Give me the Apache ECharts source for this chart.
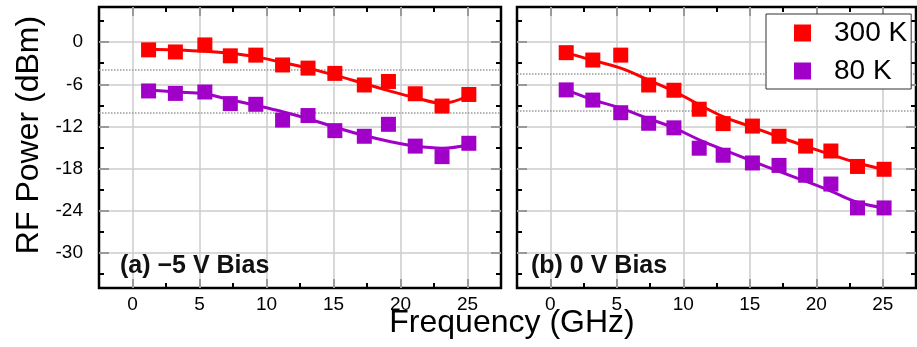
<!DOCTYPE html>
<html>
<head>
<meta charset="UTF-8">
<title>RF Power vs Frequency</title>
<script src="https://cdn.jsdelivr.net/npm/echarts@6/dist/echarts.min.js"></script>
<style>
    html, body { margin: 0; padding: 0; background: #fff; }
    #main { width: 917px; height: 347px; }
</style>
</head>
<body>
<div id="main"></div>
<script>
    // (a) -5 V bias
    var freqA = [1.2, 3.2, 5.4, 7.3, 9.2, 11.2, 13.1, 15.1, 17.3, 19.1, 21.1, 23.1, 25.1];
    var redA = [-1.1, -1.4, -0.4, -1.95, -1.85, -3.25, -3.7, -4.45, -6.1, -5.6, -7.35, -9.1, -7.45];
    var purpleA = [-6.95, -7.3, -7.1, -8.75, -8.85, -11.1, -10.45, -12.6, -13.4, -11.7, -14.8, -16.3, -14.4];
    var fitRedA = [-1.0, -1.1, -1.3, -1.6, -2.1, -2.9, -3.7, -4.7, -5.9, -6.9, -7.9, -8.7, -7.6];
    var fitPurpleA = [-6.8, -7.1, -7.4, -8.2, -9.0, -9.9, -10.9, -12.1, -13.3, -14.1, -14.8, -15.1, -14.6];
    var dottedA = [-4, -10];

    // (b) 0 V bias
    var freqB = [1.2, 3.2, 5.3, 7.4, 9.3, 11.2, 13.0, 15.2, 17.2, 19.2, 21.1, 23.1, 25.1];
    var redB = [-1.5, -2.55, -1.85, -6.1, -6.85, -9.55, -11.6, -11.95, -13.4, -14.8, -15.5, -17.7, -18.1];
    var purpleB = [-6.8, -8.25, -10.05, -11.55, -12.2, -15.1, -16.1, -17.2, -17.55, -18.95, -20.2, -23.6, -23.6];
    var fitRedB = [-1.5, -2.6, -3.7, -5.4, -7.0, -8.9, -10.6, -12.1, -13.5, -14.8, -16.0, -17.2, -18.1];
    var fitPurpleB = [-6.8, -8.2, -9.4, -10.9, -12.2, -13.9, -15.3, -16.95, -18.4, -19.8, -21.2, -22.8, -23.6];
    var dottedB = [-4.5, -9.7];

    // ticks
    var xMajor = [0, 5, 10, 15, 20, 25];
    var xMinor = [2.5, 7.5, 12.5, 17.5, 22.5];
    var yMajor = [-30, -24, -18, -12, -6, 0];
    var yMinor = [-33, -27, -21, -15, -9, -3, 3];

    var FONT = '"Liberation Sans", Arial, sans-serif';
    var RED = '#ff0000';
    var PURPLE = '#a000c8';

    function pairs(xs, ys) {
        return xs.map(function (x, i) { return [x, ys[i]]; });
    }

    function axis(dim, g, pos, vals, len, showLabel) {
        return {
            type: 'value',
            gridIndex: g,
            position: pos,
            min: dim === 'x' ? -2.5 : -35,
            max: dim === 'x' ? 27.5 : 5,
            axisLine: { show: false, onZero: false },
            axisTick: {
                show: true, inside: true, length: len, customValues: vals,
                lineStyle: { color: '#000', width: 2 }
            },
            axisLabel: {
                show: showLabel, customValues: vals, fontSize: 19, color: '#000',
                fontFamily: FONT, margin: dim === 'x' ? 7 : 16
            },
            splitLine: { show: false }
        };
    }

    var xAxes = [], yAxes = [];
    [0, 1].forEach(function (g) {
        xAxes.push(axis('x', g, 'bottom', xMajor, 9, true));
        xAxes.push(axis('x', g, 'bottom', xMinor, 5, false));
        xAxes.push(axis('x', g, 'top', xMajor, 9, false));
        xAxes.push(axis('x', g, 'top', xMinor, 5, false));
        yAxes.push(axis('y', g, 'left', yMajor, 10, g === 0));
        yAxes.push(axis('y', g, 'left', yMinor, 5, false));
        yAxes.push(axis('y', g, 'right', yMajor, 10, false));
        yAxes.push(axis('y', g, 'right', yMinor, 5, false));
    });

    function panelSeries(g, xs, red, purple, fitRed, fitPurple, dotted) {
        var ax = g * 4;
        var gridLines = xMajor.map(function (v) { return { xAxis: v }; })
            .concat(yMajor.map(function (v) { return { yAxis: v }; }));
        return [
            {
                name: 'grid', type: 'line', xAxisIndex: ax, yAxisIndex: ax,
                data: [], z: 1,
                markLine: {
                    silent: true, z: 1, symbol: ['none', 'none'], label: { show: false },
                    lineStyle: { color: '#cccccc', type: 'solid', width: 1.5 },
                    data: gridLines
                }
            },
            {
                name: 'fit300', type: 'line', xAxisIndex: ax, yAxisIndex: ax,
                data: pairs(xs, fitRed), smooth: 0.4, symbol: 'none', z: 2,
                lineStyle: { color: RED, width: 3 },
                markLine: {
                    silent: true, z: 1, symbol: ['none', 'none'], label: { show: false },
                    lineStyle: { color: '#999', type: 'dotted', width: 1.5 },
                    data: dotted.map(function (v) { return { yAxis: v }; })
                }
            },
            {
                name: 'fit80', type: 'line', xAxisIndex: ax, yAxisIndex: ax,
                data: pairs(xs, fitPurple), smooth: 0.4, symbol: 'none', z: 2,
                lineStyle: { color: PURPLE, width: 3 }
            },
            {
                name: '300 K', type: 'scatter', xAxisIndex: ax, yAxisIndex: ax,
                data: pairs(xs, red), symbol: 'rect', symbolSize: 15, z: 3,
                itemStyle: { color: RED, opacity: 1 }
            },
            {
                name: '80 K', type: 'scatter', xAxisIndex: ax, yAxisIndex: ax,
                data: pairs(xs, purple), symbol: 'rect', symbolSize: 15, z: 3,
                itemStyle: { color: PURPLE, opacity: 1 }
            }
        ];
    }

    var chart = echarts.init(document.getElementById('main'));
    var option = {
        animation: false,
        backgroundColor: '#fff',
        grid: [
            { left: 99, top: 7, width: 402, height: 281, show: true, borderColor: '#000', borderWidth: 2.5 },
            { left: 517, top: 7, width: 399, height: 281, show: true, borderColor: '#000', borderWidth: 2.5 }
        ],
        xAxis: xAxes,
        yAxis: yAxes,
        legend: {
            data: ['300 K', '80 K'],
            orient: 'vertical',
            left: 766, top: 14,
            icon: 'rect',
            itemWidth: 17, itemHeight: 17, itemGap: 10,
            padding: [5, 4, 4, 28],
            backgroundColor: '#fff',
            borderColor: '#333', borderWidth: 1,
            textStyle: { fontSize: 28, color: '#000', fontFamily: FONT, padding: [0, 0, 0, 18] }
        },
        graphic: [
            {
                type: 'text', x: 512, y: 323, z: 10,
                style: {
                    text: 'Frequency (GHz)', font: '32px ' + FONT, fill: '#000',
                    align: 'center', verticalAlign: 'middle'
                }
            },
            {
                type: 'text', x: 29, y: 135, rotation: Math.PI / 2, z: 10,
                style: {
                    text: 'RF Power (dBm)', font: '32px ' + FONT, fill: '#000',
                    align: 'center', verticalAlign: 'middle'
                }
            },
            {
                type: 'text', x: 120, y: 266, z: 10,
                style: { text: '(a) \u22125 V Bias', font: 'bold 25px ' + FONT, fill: '#111', verticalAlign: 'middle' }
            },
            {
                type: 'text', x: 531, y: 266, z: 10,
                style: { text: '(b) 0 V Bias', font: 'bold 25px ' + FONT, fill: '#111', verticalAlign: 'middle' }
            }
        ],
        series: panelSeries(0, freqA, redA, purpleA, fitRedA, fitPurpleA, dottedA)
            .concat(panelSeries(1, freqB, redB, purpleB, fitRedB, fitPurpleB, dottedB))
    };
    chart.setOption(option);
</script>
</body>
</html>
